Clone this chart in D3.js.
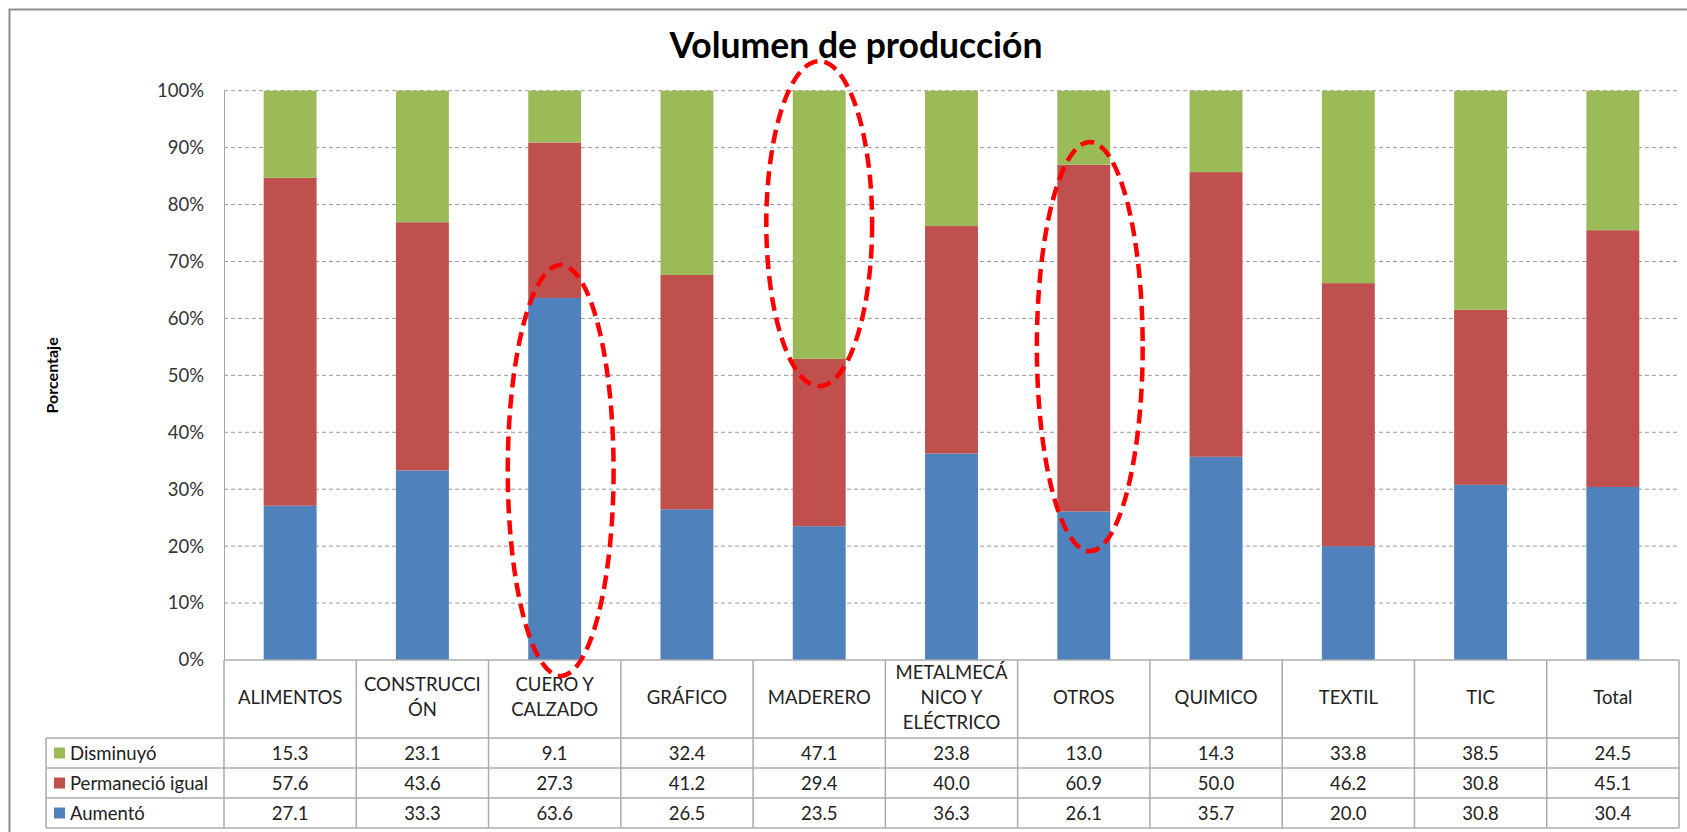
<!DOCTYPE html>
<html>
<head>
<meta charset="utf-8">
<script src="https://cdn.jsdelivr.net/npm/d3@7"></script>
<style>
  body { margin: 0; background: #fff; }
  svg { display: block; font-family: Lato, "Open Sans", sans-serif; }
</style>
</head>
<body>
<svg id="chart" width="1687" height="832"></svg>
<script>
var categories = ["ALIMENTOS", "CONSTRUCCIÓN", "CUERO Y CALZADO", "GRÁFICO", "MADERERO",
  "METALMECÁNICO Y ELÉCTRICO", "OTROS", "QUIMICO", "TEXTIL", "TIC", "Total"];
var headerLines = [["ALIMENTOS"], ["CONSTRUCCI", "ÓN"], ["CUERO Y", "CALZADO"], ["GRÁFICO"], ["MADERERO"],
  ["METALMECÁ", "NICO Y", "ELÉCTRICO"], ["OTROS"], ["QUIMICO"], ["TEXTIL"], ["TIC"], ["Total"]];

var seriesNames = ["Disminuyó", "Permaneció igual", "Aumentó"];
var disminuyo  = [15.3, 23.1, 9.1, 32.4, 47.1, 23.8, 13.0, 14.3, 33.8, 38.5, 24.5];
var permanecio = [57.6, 43.6, 27.3, 41.2, 29.4, 40.0, 60.9, 50.0, 46.2, 30.8, 45.1];
var aumento    = [27.1, 33.3, 63.6, 26.5, 23.5, 36.3, 26.1, 35.7, 20.0, 30.8, 30.4];

var yTicks = [0, 10, 20, 30, 40, 50, 60, 70, 80, 90, 100];

// red dashed marks drawn over the chart (category, lowest %, highest %)
var markCats = ["CUERO Y CALZADO", "MADERERO", "OTROS"];
var markLow  = [-2.8, 48.1, 19.1];
var markHigh = [69.4, 105.2, 91.0];

var colors = { "Disminuyó": "#9BBB59", "Permaneció igual": "#C0504D", "Aumentó": "#4F81BD" };

var rows = categories.map(function(c, i) {
  return { cat: c, "Disminuyó": disminuyo[i], "Permaneció igual": permanecio[i], "Aumentó": aumento[i] };
});

var svg = d3.select("#chart");

var plotLeft = 224, plotRight = 1679, plotTop = 90.7, plotBottom = 660;
var tableTop = 738, rowH = 30, legendLeft = 46;
var fontSize = "18.5px";

var x = d3.scaleBand().domain(categories).range([plotLeft, plotRight]);
var y = d3.scaleLinear().domain([0, 1]).range([plotBottom, plotTop]);
var barW = x.bandwidth() * 0.4;

// outer frame
svg.append("rect")
  .attr("x", 9.5).attr("y", 9.5)
  .attr("width", 1720).attr("height", 860)
  .attr("fill", "none").attr("stroke", "#8c8c8c").attr("stroke-width", 2);

svg.append("text")
  .attr("x", 856).attr("y", 58)
  .attr("text-anchor", "middle")
  .style("font-size", "35.5px").style("font-weight", "bold").style("fill", "#000")
  .text("Volumen de producción");

svg.append("text")
  .attr("transform", "translate(58," + (plotTop + plotBottom) / 2 + ") rotate(-90)")
  .attr("text-anchor", "middle")
  .style("font-size", "16px").style("font-weight", "bold").style("fill", "#000")
  .text("Porcentaje");

// gridlines
svg.append("g").selectAll("line")
  .data(yTicks.filter(function(d) { return d > 0; }))
  .enter().append("line")
    .attr("x1", plotLeft).attr("x2", plotRight)
    .attr("y1", function(d) { return y(d / 100); })
    .attr("y2", function(d) { return y(d / 100); })
    .attr("stroke", "#9a9a9a").attr("stroke-dasharray", "4,3");

var yAxis = svg.append("g")
  .attr("transform", "translate(" + plotLeft + ",0)")
  .call(d3.axisLeft(y).tickValues(yTicks.map(function(d) { return d / 100; }))
    .tickFormat(d3.format(".0%")).tickSize(0).tickPadding(20));
yAxis.select(".domain").remove();
yAxis.selectAll("text")
  .style("font-family", "Lato, sans-serif").style("font-size", fontSize).style("fill", "#333");

svg.append("line")
  .attr("x1", plotLeft + 0.5).attr("x2", plotLeft + 0.5)
  .attr("y1", y(1)).attr("y2", y(0))
  .attr("stroke", "#a6a6a6");

// stacked bars
var stack = d3.stack()
  .keys(["Aumentó", "Permaneció igual", "Disminuyó"])
  .offset(d3.stackOffsetExpand);

svg.append("g").selectAll("g")
  .data(stack(rows))
  .enter().append("g")
    .attr("fill", function(d) { return colors[d.key]; })
  .selectAll("rect")
  .data(function(d) { return d; })
  .enter().append("rect")
    .attr("x", function(d) { return x(d.data.cat) + (x.bandwidth() - barW) / 2; })
    .attr("width", barW)
    .attr("y", function(d) { return y(d[1]); })
    .attr("height", function(d) { return y(d[0]) - y(d[1]); });

// data table
var grid = svg.append("g")
  .attr("stroke", "#ababab").attr("stroke-width", 1.5).attr("fill", "none");

grid.append("line").attr("x1", plotLeft).attr("x2", plotRight).attr("y1", plotBottom).attr("y2", plotBottom);
[0, 1, 2, 3].forEach(function(r) {
  grid.append("line")
    .attr("x1", legendLeft).attr("x2", plotRight)
    .attr("y1", tableTop + r * rowH).attr("y2", tableTop + r * rowH);
});
grid.append("line").attr("x1", legendLeft).attr("x2", legendLeft)
  .attr("y1", tableTop).attr("y2", tableTop + 3 * rowH);
grid.selectAll(".col")
  .data(categories.concat(["end"]))
  .enter().append("line")
    .attr("x1", function(d, i) { return plotLeft + i * x.step(); })
    .attr("x2", function(d, i) { return plotLeft + i * x.step(); })
    .attr("y1", plotBottom).attr("y2", tableTop + 3 * rowH);

var header = svg.append("g").selectAll("text")
  .data(headerLines)
  .enter().append("text")
    .attr("text-anchor", "middle")
    .attr("x", function(d, i) { return x(categories[i]) + x.bandwidth() / 2; })
    .attr("y", function(d) { return 697 - (d.length - 1) * 12.5 + 6.5; })
    .style("font-size", fontSize).style("fill", "#222");
header.selectAll("tspan")
  .data(function(d) { return d; })
  .enter().append("tspan")
    .attr("x", function() { return d3.select(this.parentNode).attr("x"); })
    .attr("dy", function(d, i) { return i ? 25 : 0; })
    .text(function(d) { return d; });

var tableSeries = [disminuyo, permanecio, aumento];
var fmt = d3.format(".1f");

seriesNames.forEach(function(name, r) {
  var cy = tableTop + r * rowH + rowH / 2;
  svg.append("rect")
    .attr("x", 54).attr("y", cy - 5.5)
    .attr("width", 11).attr("height", 11)
    .attr("fill", colors[name]);
  svg.append("text")
    .attr("x", 70).attr("y", cy + 6.5)
    .style("font-size", fontSize).style("fill", "#222")
    .text(name);
  svg.append("g").selectAll("text")
    .data(tableSeries[r])
    .enter().append("text")
      .attr("text-anchor", "middle")
      .attr("x", function(d, i) { return x(categories[i]) + x.bandwidth() / 2; })
      .attr("y", cy + 6.5)
      .style("font-size", fontSize).style("fill", "#222")
      .text(function(d) { return fmt(d); });
});

// red dashed ellipses
svg.append("g").selectAll("ellipse")
  .data(markCats)
  .enter().append("ellipse")
    .attr("cx", function(d, i) { return x(d) + x.bandwidth() / 2 + (i === 1 ? 0 : 6); })
    .attr("cy", function(d, i) { return (y(markLow[i] / 100) + y(markHigh[i] / 100)) / 2; })
    .attr("rx", x.bandwidth() * 0.4)
    .attr("ry", function(d, i) { return (y(markLow[i] / 100) - y(markHigh[i] / 100)) / 2; })
    .attr("fill", "none").attr("stroke", "#ff0000")
    .attr("stroke-width", 4.5).attr("stroke-dasharray", "14,7");
</script>
</body>
</html>
